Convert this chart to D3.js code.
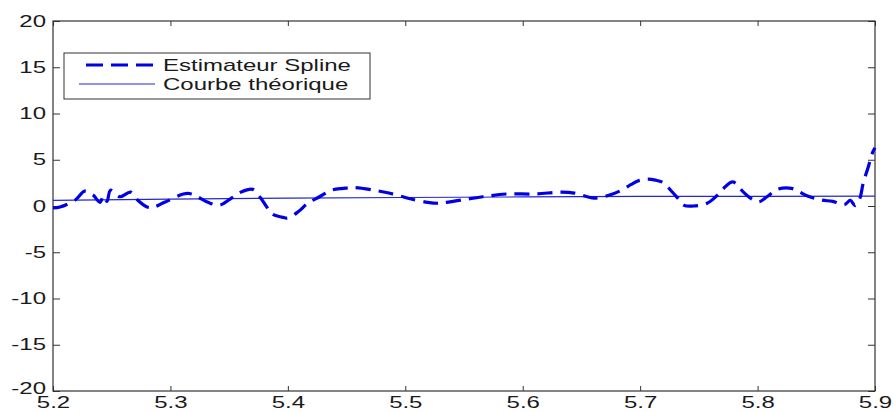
<!DOCTYPE html>
<html>
<head>
<meta charset="utf-8">
<script src="https://cdn.jsdelivr.net/npm/d3@7"></script>
<style>
  html, body { margin: 0; padding: 0; background: #fff; }
  svg { display: block; }
  text { font-family: "Liberation Sans", Arial, sans-serif; }
</style>
</head>
<body>
<svg id="chart" width="893" height="412"></svg>
<script>
// ---- data ----
const xTicks = [5.2, 5.3, 5.4, 5.5, 5.6, 5.7, 5.8, 5.9];
const xTickLabels = ["5.2", "5.3", "5.4", "5.5", "5.6", "5.7", "5.8", "5.9"];
const yTicks = [-20, -15, -10, -5, 0, 5, 10, 15, 20];
const yTickLabels = ["-20", "-15", "-10", "-5", "0", "5", "10", "15", "20"];
const legendLabels = ["Estimateur Spline", "Courbe théorique"];

const splineX = [5.200, 5.206, 5.219, 5.227, 5.234, 5.240, 5.243, 5.246, 5.249, 5.257, 5.266, 5.272, 5.280, 5.285, 5.295,
  5.311, 5.316, 5.323, 5.332, 5.342, 5.352, 5.360, 5.370, 5.377, 5.382, 5.387, 5.395, 5.400, 5.409, 5.417, 5.427,
  5.437, 5.447, 5.457, 5.474, 5.486, 5.498, 5.505, 5.519, 5.528, 5.538, 5.553, 5.566, 5.586, 5.610, 5.633, 5.644,
  5.655, 5.661, 5.672, 5.684, 5.692, 5.698, 5.706, 5.713, 5.720, 5.726, 5.732, 5.737, 5.745, 5.757, 5.766, 5.771,
  5.779, 5.788, 5.794, 5.801, 5.808, 5.817, 5.829, 5.836, 5.842, 5.854, 5.864, 5.874, 5.879, 5.883, 5.887, 5.890,
  5.894, 5.898, 5.900];
const splineY = [-0.2, -0.1, 0.65, 1.6, 1.2, 0.4, 1.1, 0.5, 1.7, 1.0, 1.5, 0.65, -0.1, -0.15, 0.4,
  1.3, 1.35, 1.0, 0.4, 0.1, 0.85, 1.5, 1.8, 0.85, -0.1, -0.9, -1.2, -1.3, -0.6, 0.3, 1.0,
  1.7, 1.9, 2.0, 1.7, 1.4, 1.0, 0.75, 0.4, 0.3, 0.45, 0.75, 1.0, 1.3, 1.3, 1.5, 1.4,
  1.0, 0.85, 1.1, 1.7, 2.3, 2.7, 2.9, 2.8, 2.5, 1.7, 0.85, 0.1, 0.0, 0.3, 1.2, 1.9,
  2.6, 1.5, 0.85, 0.45, 1.0, 1.8, 1.9, 1.5, 1.1, 0.65, 0.5, 0.15, 0.6, 0.05, 0.8, 2.5,
  4.1, 5.8, 6.3];

const theoX = [5.2, 5.3, 5.4, 5.5, 5.6, 5.7, 5.8, 5.9];
const theoY = [0.6, 0.75, 0.85, 0.92, 0.98, 1.03, 1.05, 1.07];

// ---- layout ----
const svg = d3.select("#chart");
const L = 53, R = 875, T = 21, B = 391;
const SX = 1.5;          // horizontal stretch of the reference text
const FS = 16;
const axisColor = "#333";
const textColor = "#1a1a1a";
const blue = "#0000e6";

const x = d3.scaleLinear().domain([5.2, 5.9]).range([L, R]);
const y = d3.scaleLinear().domain([-20, 20]).range([B, T]);

// axes
const gB = svg.append("g").attr("transform", `translate(0,${B})`)
  .call(d3.axisBottom(x).tickValues(xTicks).tickFormat((d, i) => xTickLabels[i]).tickSizeInner(-5).tickSizeOuter(0).tickPadding(6));
const gT = svg.append("g").attr("transform", `translate(0,${T})`)
  .call(d3.axisTop(x).tickValues(xTicks).tickFormat("").tickSizeInner(-5).tickSizeOuter(0));
const gL = svg.append("g").attr("transform", `translate(${L},0)`)
  .call(d3.axisLeft(y).tickValues(yTicks).tickFormat((d, i) => yTickLabels[i]).tickSizeInner(-7).tickSizeOuter(0).tickPadding(7));
const gR = svg.append("g").attr("transform", `translate(${R},0)`)
  .call(d3.axisRight(y).tickValues(yTicks).tickFormat("").tickSizeInner(-7).tickSizeOuter(0));

[gB, gT, gL, gR].forEach(g => {
  g.select(".domain").remove();
  g.selectAll(".tick line").attr("stroke", axisColor).attr("stroke-width", 1);
  g.selectAll("text").attr("font-size", FS).attr("fill", textColor)
    .attr("font-family", '"Liberation Sans", Arial, sans-serif');
});
gB.selectAll(".tick text").attr("transform", `scale(${SX},1)`);
gL.selectAll(".tick text").attr("x", -7 / SX).attr("transform", `scale(${SX},1)`);
// the lowest y label sits slightly raised, as in the reference
gL.selectAll(".tick text").filter(d => d === -20).attr("y", -3);

// box
svg.append("rect").attr("x", L).attr("y", T).attr("width", R - L).attr("height", B - T)
  .attr("fill", "none").attr("stroke", axisColor).attr("stroke-width", 1.2);

// theoretical line
const theo = theoX.map((d, i) => [d, theoY[i]]);
svg.append("path").datum(theo)
  .attr("fill", "none").attr("stroke", "#2626d0").attr("stroke-width", 1.2)
  .attr("d", d3.line().x(d => x(d[0])).y(d => y(d[1])));

// spline estimate
const spl = splineX.map((d, i) => [d, splineY[i]]);
svg.append("path").datum(spl)
  .attr("fill", "none").attr("stroke", blue).attr("stroke-width", 3.2)
  .attr("stroke-dasharray", "15,8")
  .attr("d", d3.line().curve(d3.curveCatmullRom.alpha(0.5)).x(d => x(d[0])).y(d => y(d[1])));

// legend
const lg = svg.append("g");
lg.append("rect").attr("x", 64).attr("y", 53).attr("width", 306).attr("height", 46)
  .attr("fill", "#fff").attr("stroke", axisColor).attr("stroke-width", 1);
lg.append("line").attr("x1", 86).attr("x2", 155).attr("y1", 65).attr("y2", 65)
  .attr("stroke", blue).attr("stroke-width", 3.2).attr("stroke-dasharray", "17,8");
lg.append("line").attr("x1", 79).attr("x2", 155).attr("y1", 84).attr("y2", 84)
  .attr("stroke", "#2626d0").attr("stroke-width", 1.2);
[[legendLabels[0], 71], [legendLabels[1], 90]].forEach(([t, yy]) => {
  lg.append("text").attr("transform", `translate(163,${yy}) scale(${SX},1)`)
    .attr("font-size", FS).attr("fill", textColor).text(t);
});
</script>
</body>
</html>
